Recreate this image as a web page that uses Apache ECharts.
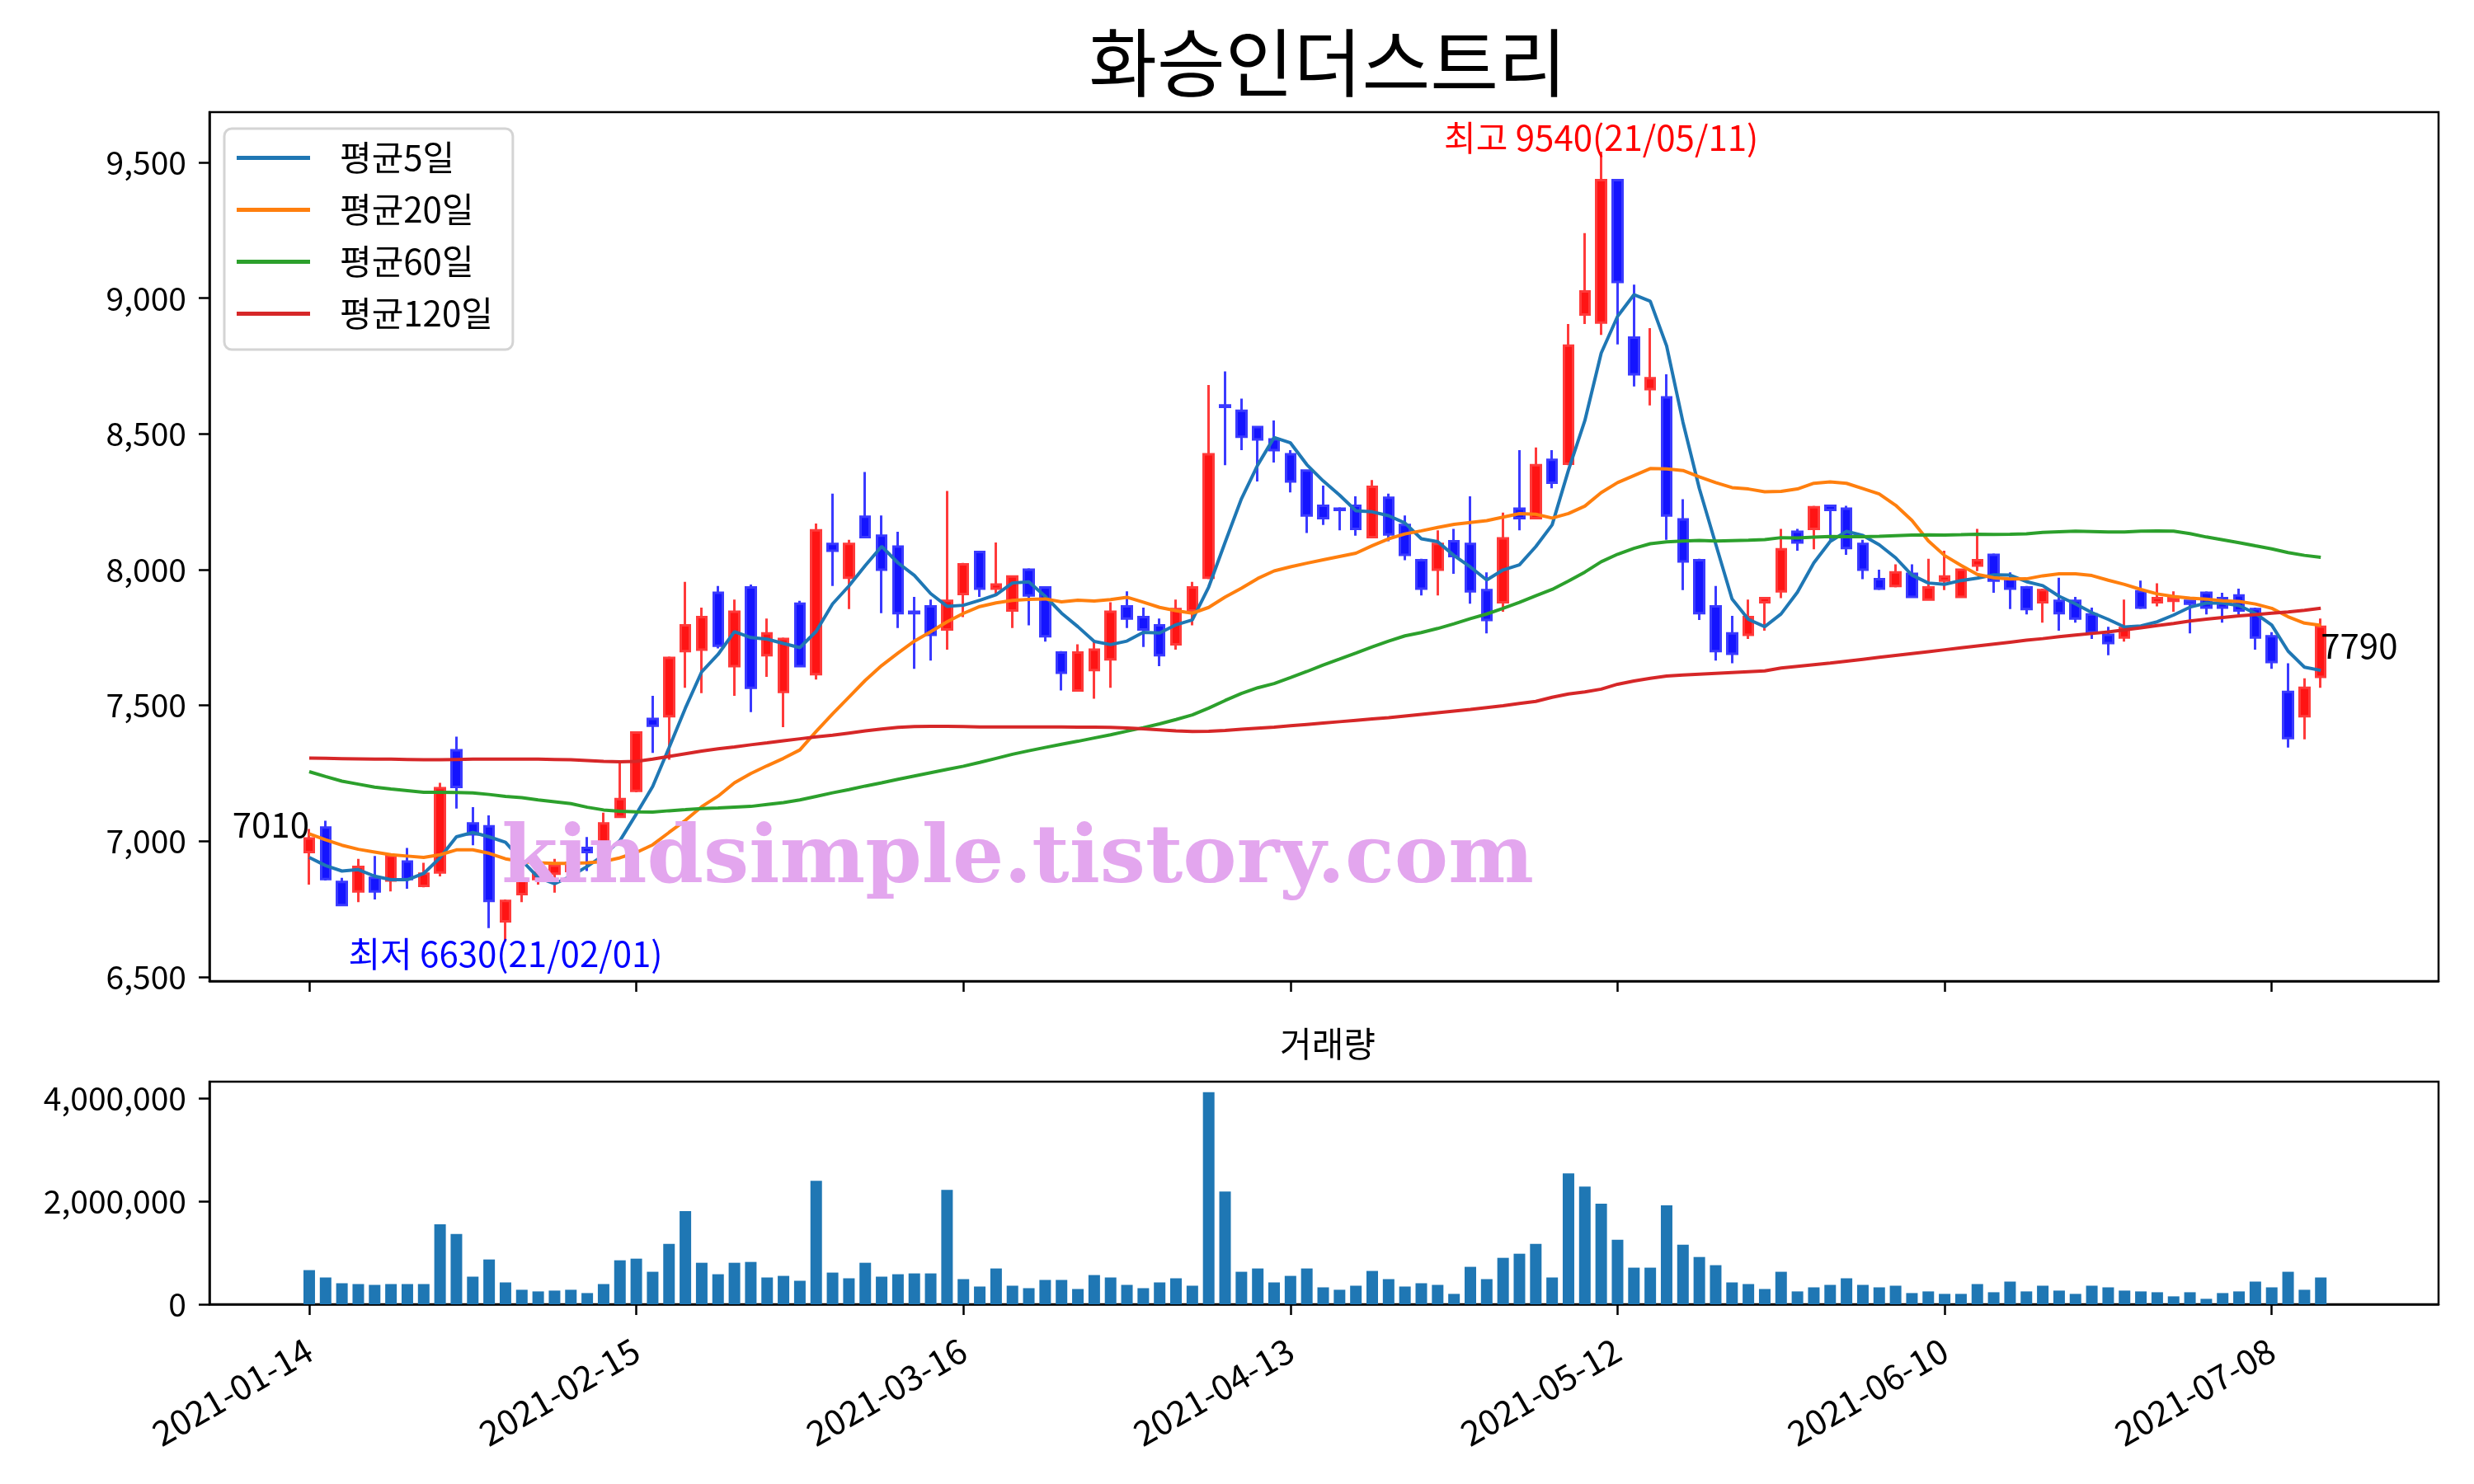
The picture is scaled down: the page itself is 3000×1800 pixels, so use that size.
<!DOCTYPE html>
<html><head><meta charset="utf-8">
<script src="https://cdn.jsdelivr.net/npm/echarts@6/dist/echarts.min.js"></script>
<style>html,body{margin:0;padding:0;background:#fff;}#c{width:3000px;height:1800px;}</style>
</head><body><div id="c"></div>
<script>
const opens  = [6960,7050,6850,6815,6865,6855,6925,6835,6885,7335,7065,7055,6705,6805,6860,6880,6890,6975,6990,7090,
7185,7450,7460,7700,7705,7915,7645,7935,7685,7550,7875,7615,8095,7970,8195,8125,8085,7845,7865,7780,
7910,8065,7930,7850,8000,7935,7695,7555,7630,7670,7865,7825,7795,7725,7850,7970,8605,8585,8525,8480,
8425,8365,8235,8225,8235,8120,8265,8165,8035,8000,8105,8095,7925,7880,8225,8190,8405,8390,8940,8910,
9435,8855,8665,8635,8185,8035,7865,7765,7760,7880,7920,8140,8150,8235,8225,8095,7965,7940,7985,7890,
7960,7900,8015,8055,7965,7935,7880,7885,7885,7835,7760,7750,7920,7880,7885,7885,7915,7895,7905,7855,
7755,7550,7460,7605];
const closes = [7010,6860,6765,6905,6815,6945,6860,6880,7195,7200,7025,6780,6780,6860,6885,6910,6920,6960,7065,7155,
7400,7425,7675,7795,7825,7720,7845,7565,7765,7745,7645,8145,8070,8095,8120,8000,7840,7840,7760,7885,
8020,7930,7945,7975,7905,7755,7620,7695,7705,7845,7820,7780,7685,7855,7935,8425,8600,8490,8480,8440,
8325,8200,8190,8220,8150,8305,8130,8055,7930,8095,8050,7920,7815,8115,8190,8385,8320,8825,9025,9435,
9060,8720,8705,8200,8030,7840,7700,7690,7825,7895,8075,8100,8230,8220,8080,8000,7930,7990,7900,7935,
7975,8000,8035,7960,7930,7855,7925,7840,7820,7770,7730,7785,7860,7895,7895,7875,7860,7860,7850,7750,
7660,7380,7565,7790];
const lows   = [6840,6855,6760,6775,6785,6815,6825,6830,6870,7120,6985,6680,6630,6775,6840,6810,6870,6890,6975,7085,
7180,7325,7300,7565,7545,7710,7535,7475,7605,7420,7640,7595,7940,7855,8115,7840,7785,7635,7665,7705,
7825,7900,7910,7785,7795,7735,7555,7555,7525,7565,7785,7715,7645,7705,7795,7965,8385,8440,8325,8395,
8285,8135,8165,8145,8125,8120,8105,8035,7905,7905,7985,7875,7765,7845,8145,8185,8300,8385,8905,8865,
8830,8675,8605,8110,7925,7815,7665,7655,7745,7775,7895,8070,8075,8110,8055,7965,7925,7935,7895,7885,
7925,7900,7995,7915,7855,7835,7805,7775,7805,7745,7685,7735,7855,7865,7845,7765,7835,7805,7835,7705,
7635,7345,7375,7565];
const highs  = [7045,7075,6865,6935,6945,6950,6975,6920,7215,7385,7125,7095,6785,6880,6920,6935,6950,7015,7105,7290,
7405,7535,7680,7955,7860,7940,7890,7945,7820,7750,7885,8170,8280,8110,8360,8200,8140,7900,7890,8290,
8025,8070,8100,7975,8005,7935,7700,7725,7735,7880,7920,7860,7820,7890,7955,8680,8730,8630,8530,8550,
8440,8370,8310,8230,8270,8330,8280,8200,8040,8145,8150,8270,7990,8210,8440,8450,8440,8905,9240,9540,
9435,9050,8890,8720,8260,8040,7940,7830,7890,7895,8150,8150,8235,8240,8235,8110,8000,8020,8020,8040,
8070,8000,8150,8060,7990,7940,7930,7970,7900,7860,7790,7890,7960,7950,7920,7890,7920,7915,7930,7860,
7770,7655,7600,7820];
const volumes = [664000,521000,409000,393000,377000,393000,393000,393000,1556000,1365000,537000,871000,425000,282000,250000,266000,282000,218000,393000,855000,
887000,632000,1174000,1811000,807000,584000,807000,823000,521000,552000,457000,2401000,616000,505000,807000,537000,584000,600000,600000,2226000,
489000,345000,696000,361000,313000,473000,473000,297000,568000,521000,377000,313000,425000,505000,361000,4122000,2194000,632000,696000,425000,
552000,696000,329000,282000,361000,648000,489000,345000,409000,377000,202000,728000,489000,903000,983000,1174000,521000,2544000,2289000,1955000,
1254000,712000,712000,1923000,1158000,919000,760000,425000,393000,297000,632000,250000,329000,377000,505000,377000,329000,361000,218000,250000,
202000,202000,393000,234000,441000,250000,361000,266000,202000,361000,329000,266000,250000,234000,154000,234000,106000,218000,250000,441000,
329000,632000,282000,521000];

const ma5Head  = [6940,6910,6890,6895];
const ma20Head = [7027,7005,6985,6970,6960,6950,6945,6940,6950,6968,6968,6955,6935,6925,6920,6918,6918,6920,6925];
const ma60Head = [7256,7238,7221,7210,7199,7192,7186,7180,7180,7179,7178,7172,7165,7160,7152,7145,7138,7125,7115,7110,
7108,7107,7112,7116,7120,7122,7125,7128,7135,7142,7152,7165,7178,7190,7203,7215,7228,7240,7252,7264,
7276,7290,7305,7320,7333,7345,7357,7368,7380,7392,7405,7418,7432,7448,7465,7490,7518,7544,7565];
const ma120Head = [7306,7305,7304,7303,7302,7302,7301,7300,7300,7301,7302,7302,7302,7302,7302,7301,7300,7297,7294,7292,
7294,7302,7312,7322,7332,7340,7347,7355,7362,7370,7377,7384,7390,7398,7406,7413,7419,7422,7423,7423,
7422,7421,7421,7421,7421,7421,7421,7420,7420,7419,7417,7414,7410,7406,7404,7405,7408,7412,7416,7420,
7425,7430,7435,7440,7445,7450,7455,7461,7467,7473,7479,7485,7492,7499,7507,7515,7530,7542,7550,7560,
7578,7590,7600,7608,7612,7615,7618,7621,7624,7627,7638,7644,7650,7656,7663,7670,7677,7684,7691,7698,
7705,7712,7719,7726,7733,7740,7746,7753,7759,7765,7771,7778,7786,7794,7802,7811,7818,7824,7830];

const tickIdx = [0,20,40,60,80,100,120];
const tickLabels = ['2021-01-14','2021-02-15','2021-03-16','2021-04-13','2021-05-12','2021-06-10','2021-07-08'];
const priceTicks = [6500,7000,7500,8000,8500,9000,9500];
const volTicks = [0,2000000,4000000];
const title = '화승인더스트리';
const maNames = ['평균5일','평균20일','평균60일','평균120일'];
const maColors = ['#1f77b4','#ff7f0e','#2ca02c','#d62728'];

function movingAvg(n, head){
  return closes.map((c,i)=>{
    if(i < n-1) return head[i];
    let s=0; for(let k=i-n+1;k<=i;k++) s+=closes[k];
    return s/n;
  });
}
const mas = [movingAvg(5,ma5Head), movingAvg(20,ma20Head), movingAvg(60,ma60Head), movingAvg(120,ma120Head)];

const hiIdx = highs.indexOf(Math.max(...highs));
const loIdx = lows.indexOf(Math.min(...lows));
const last = closes.length-1;
const fmt = v => Math.round(v).toLocaleString('en-US');

const FONT = '"Noto Sans CJK KR", "Noto Sans", sans-serif';
const FS = 42;
const TS = 39;
const AX_CX = 1605;
const chart = echarts.init(document.getElementById('c'), null, {renderer:'canvas'});

const xBase = {
  type:'value', min:-6.1, max:130.2,
  splitLine:{show:false},
  axisLine:{show:true, onZero:false, lineStyle:{color:'#000', width:2.5}},
  axisTick:{show:true, customValues:tickIdx, length:13, lineStyle:{color:'#000', width:2.5}},
};
const vmax = Math.max(...volumes)*1.05;
const pmin = Math.min(...lows), pmax = Math.max(...highs);
const pad = (pmax-pmin)*0.05;

const option = {
  animation:false,
  backgroundColor:'#fff',
  textStyle:{fontFamily:FONT},
  title:[
    {text:title, left:AX_CX, textAlign:'center', top:26, textStyle:{fontSize:90, fontWeight:'normal', color:'#000', fontFamily:FONT}},
    {text:'거래량', left:AX_CX, textAlign:'center', top:1240, textStyle:{fontSize:FS, fontWeight:'normal', color:'#000', fontFamily:FONT}}
  ],
  grid:[
    {left:254, right:43, top:136, height:1054, show:true, borderColor:'#000', borderWidth:2.5, backgroundColor:'transparent'},
    {left:254, right:43, top:1312, height:270, show:true, borderColor:'#000', borderWidth:2.5, backgroundColor:'transparent'}
  ],
  legend:{
    data:maNames, orient:'vertical', left:272, top:156,
    icon:'rect', itemWidth:89, itemHeight:5, itemGap:20,
    padding:[14,24,22,15],
    backgroundColor:'rgba(255,255,255,0.8)', borderColor:'#d4d4d4', borderWidth:3, borderRadius:9,
    textStyle:{fontSize:FS, color:'#000', fontFamily:FONT, padding:[0,0,0,31], lineHeight:43}
  },
  xAxis:[
    Object.assign({}, xBase, {gridIndex:0, axisLabel:{show:false}}),
    Object.assign({}, xBase, {gridIndex:1, axisLabel:{show:true, customValues:tickIdx, rotate:30, margin:52,
      fontSize:FS, color:'#000', fontFamily:FONT,
      formatter:v=>tickLabels[tickIdx.indexOf(v)] || ''}})
  ],
  yAxis:[
    {type:'value', gridIndex:0, min:pmin-pad, max:pmax+pad, splitLine:{show:false},
     axisLine:{show:true, onZero:false, lineStyle:{color:'#000', width:2.5}},
     axisTick:{show:true, customValues:priceTicks, length:13, lineStyle:{color:'#000', width:2.5}},
     axisLabel:{customValues:priceTicks, formatter:fmt, fontSize:TS, color:'#000', margin:28, fontFamily:FONT}},
    {type:'value', gridIndex:1, min:0, max:vmax, splitLine:{show:false},
     axisLine:{show:true, onZero:false, lineStyle:{color:'#000', width:2.5}},
     axisTick:{show:true, customValues:volTicks, length:13, lineStyle:{color:'#000', width:2.5}},
     axisLabel:{customValues:volTicks, formatter:fmt, fontSize:TS, color:'#000', margin:28, fontFamily:FONT}}
  ],
  series:[
    {type:'candlestick', name:'price', xAxisIndex:0, yAxisIndex:0,
     encode:{x:0, y:[1,2,3,4]},
     data:closes.map((c,i)=>[i, opens[i], c, lows[i], highs[i]]),
     barWidth:12, z:2,
     itemStyle:{color:'#ff1414', color0:'#1414ff', borderColor:'#ff3a3a', borderColor0:'#3a3aff', borderWidth:3}},
  ].concat(mas.map((m,k)=>({
     type:'line', name:maNames[k], xAxisIndex:0, yAxisIndex:0, z:3,
     data:m.map((v,i)=>[i,v]), showSymbol:false, symbol:'none',
     lineStyle:{color:maColors[k], width:4}, itemStyle:{color:maColors[k]}
  }))).concat([
    {type:'bar', name:'vol', xAxisIndex:1, yAxisIndex:1, barWidth:14,
     data:volumes.map((v,i)=>[i,v]), itemStyle:{color:'#1f77b4'}}
  ])
};
chart.setOption(option);

function px(i,v){ return chart.convertToPixel({xAxisIndex:0, yAxisIndex:0}, [i,v]); }
const pHi = px(hiIdx, highs[hiIdx]);
const pLo = px(loIdx, lows[loIdx]);
const pFirst = px(0, closes[0]);
const pLast = px(last, closes[last]);
chart.setOption({graphic:[
  {type:'text', z:50, style:{text:'최고 '+highs[hiIdx]+'(21/05/11)', x:pHi[0], y:pHi[1]+4, textAlign:'center', textVerticalAlign:'bottom', fill:'#ff0000', font:FS+'px '+FONT}},
  {type:'text', z:50, style:{text:'최저 '+lows[loIdx]+'(21/02/01)', x:pLo[0], y:pLo[1]-6, textAlign:'center', textVerticalAlign:'top', fill:'#0000ff', font:FS+'px '+FONT}},
  {type:'text', z:50, style:{text:String(closes[0]), x:pFirst[0], y:pFirst[1]+4, textAlign:'right', textVerticalAlign:'bottom', fill:'#000', font:FS+'px '+FONT}},
  {type:'text', z:50, style:{text:String(closes[last]), x:pLast[0], y:pLast[1]+2, textAlign:'left', textVerticalAlign:'top', fill:'#000', font:FS+'px '+FONT}},
  {type:'text', z:60, style:{text:'kindsimple.tistory.com', x:1234, y:1045, textAlign:'center', textVerticalAlign:'middle', fill:'#e3a6ee', font:'bold 98px "DejaVu Serif"'}}
]});
</script></body></html>
